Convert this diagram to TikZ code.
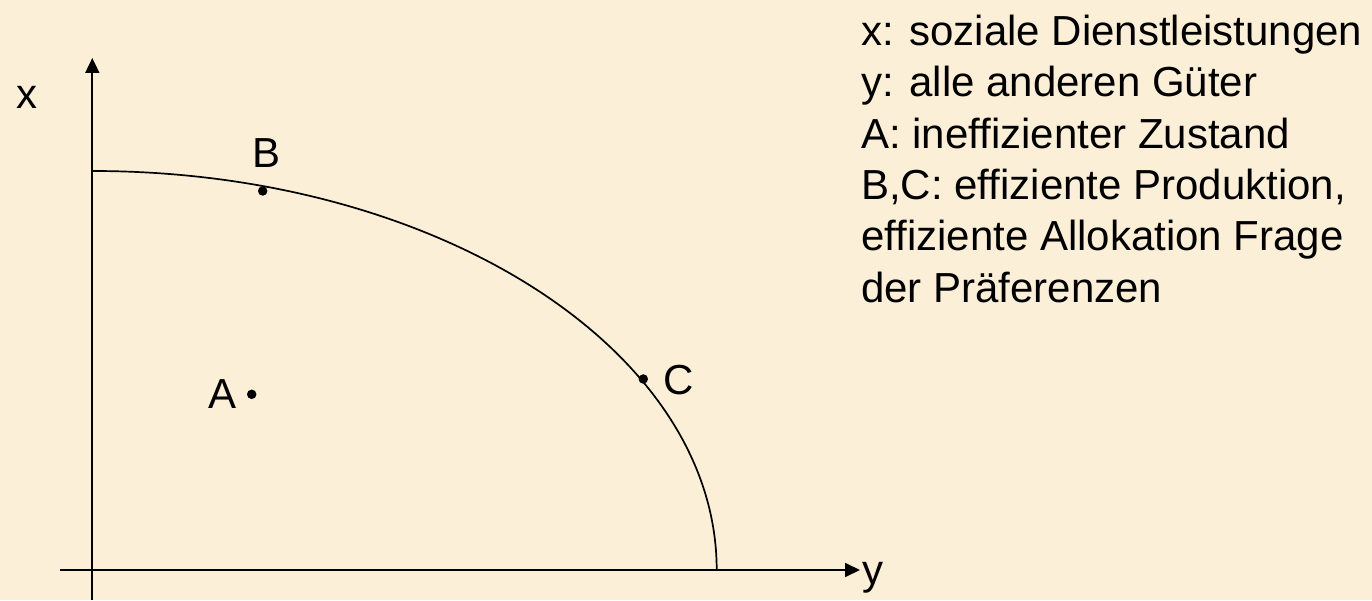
\documentclass[tikz,border=0pt]{standalone}
\usepackage{fontspec}
\setmainfont{Liberation Sans}
\usepackage{tikz}
\usetikzlibrary{arrows.meta}
\definecolor{parchment}{HTML}{FBEFD7}

\begin{document}
\begin{tikzpicture}[
        x=1pt, y=1pt,
        axis/.style={line width=1.8pt, -{Triangle[length=15pt, width=14pt]}},
        curve/.style={line width=1.7pt},
        dot/.style={circle, fill=black, inner sep=0pt, minimum size=9.5pt},
        lbl/.style={anchor=base west, inner sep=0pt, font=\fontsize{42}{51.3}\selectfont}
    ]
        \fill[parchment] (0,0) rectangle (1372,600);
        \useasboundingbox (0,0) rectangle (1372,600);

        % axes
        \coordinate (origin) at (92.3,30);
        \coordinate (xend) at (92.3,542);
        \coordinate (xstart) at (92.3,0);
        \coordinate (ystart) at (60,30);
        \coordinate (yend) at (860,30);
        \draw[axis] (xstart) -- (xend);
        \draw[axis] (ystart) -- (yend);
        \node[lbl] (xlab) at (16,491) {x};
        \node[lbl] (ylab) at (862,16) {y};

        % production possibility curve
        \coordinate (top) at (92.3,429);
        \draw[curve] (top) arc[start angle=90, end angle=0, x radius=624.4, y radius=399];

        % points
        \node[dot] (a) at (251.7,205.7) {};
        \node[dot] (b) at (262.7,409) {};
        \node[dot] (c) at (643.3,221) {};
        \node[lbl] (alab) at (208,192) {A};
        \node[lbl] (blab) at (252,432) {B};
        \node[lbl] (clab) at (663,205) {C};

        % legend
        \node[lbl, anchor=north west, align=left] (legend) at (861,585) {x: soziale Dienstleistungen\\y: alle anderen Güter\\A: ineffizienter Zustand\\B,C: effiziente Produktion,\\effiziente Allokation Frage\\der Präferenzen};
    \end{tikzpicture}
\end{document}
